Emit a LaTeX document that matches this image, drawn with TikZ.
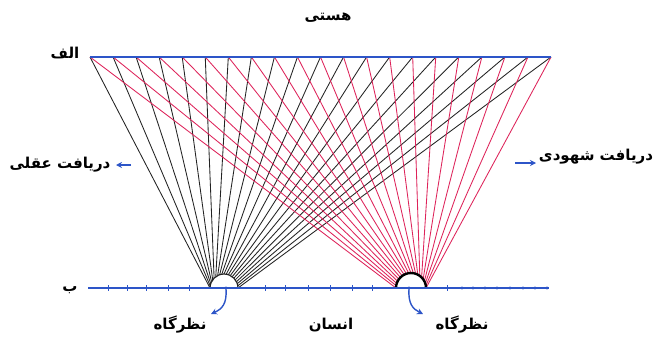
\documentclass[tikz,border=0pt]{standalone}
\usepackage{fontspec}
\newfontfamily\arabicfont[Script=Arabic,BoldFont={DejaVu Sans Bold}]{DejaVu Sans}
\TeXXeTstate=1
\usetikzlibrary{arrows.meta}
\definecolor{lineblue}{RGB}{45,85,200}
\definecolor{rayred}{RGB}{222,35,90}
\definecolor{rayblack}{RGB}{35,35,35}
\tikzset{
  lbl/.style={font=\arabicfont\bfseries\fontsize{15}{18}\selectfont, inner sep=0pt, text=black},
  baseline/.style={draw=lineblue, line width=1.6pt},
  rayb/.style={draw=rayblack, line width=0.85pt},
  rayr/.style={draw=rayred, line width=0.85pt},
  tick/.style={draw=lineblue, line width=0.8pt},
  barrow/.style={draw=lineblue, line width=1.4pt, -{Stealth[length=6pt,width=6pt]}},
}
\begin{document}
\begin{tikzpicture}[x=1pt,y=-1pt]
\useasboundingbox (0,0) rectangle (658,340);
\fill[white] (0,0) rectangle (658,340);
% key points
\coordinate (A1) at (90,57); \coordinate (A2) at (551,57);
\coordinate (B1) at (88,288); \coordinate (B2) at (549,288);
\coordinate (L) at (224,288); \coordinate (R) at (411,288);
\foreach \i in {0,...,20} {
  \coordinate (t\i) at ({90+\i*23.05},57);
  \coordinate (k\i) at ({224+14*cos(180+\i*9)},{288+14*sin(180+\i*9)});
  \coordinate (r\i) at ({411+15*cos(180+\i*9)},{288+15*sin(180+\i*9)});
}
% rays
\foreach \i in {0,...,20} { \draw[rayb] (t\i) -- (k\i); }
\foreach \i in {0,...,20} { \draw[rayr] (t\i) -- (r\i); }
% viewpoints
\draw[rayblack, line width=1.2pt] (210,288) arc[start angle=180, end angle=360, radius=14];
\draw[black, line width=2.4pt] (396,288) arc[start angle=180, end angle=360, radius=15];
% lines
\draw[baseline] (A1) -- (A2);
\draw[baseline] (B1) -- (B2);
\foreach \x in {108,127,146,168,189,265,285,308,330,352,372,447} { \draw[tick] (\x,285) -- (\x,291); }
\foreach \x in {226,409,462,473,485,497,510,523,535,547} { \fill[lineblue] (\x,288) circle (1.6); }
% labels
\node[lbl] (hasti) at (328,18) {\beginR هستی\endR};
\node[lbl] (alef) at (65,53) {\beginR الف\endR};
\node[lbl] (be) at (70,290) {\beginR ب\endR};
\node[lbl] (aqli) at (60,165) {\beginR دریافت عقلی\endR};
\node[lbl] (shohudi) at (596,157) {\beginR دریافت شهودی\endR};
\node[lbl] (nazar1) at (180,325) {\beginR نظرگاه\endR};
\node[lbl] (ensan) at (331,325) {\beginR انسان\endR};
\node[lbl] (nazar2) at (462,325) {\beginR نظرگاه\endR};
% arrows
\coordinate (a1s) at (131,165); \coordinate (a1e) at (116,165);
\draw[barrow] (a1s) -- (a1e);
\coordinate (a2s) at (515,163); \coordinate (a2e) at (536,163);
\draw[barrow] (a2s) -- (a2e);
\coordinate (v1s) at (226,289); \coordinate (v1e) at (211,314);
\draw[barrow] (v1s) .. controls (227,304) and (222,309) .. (v1e);
\coordinate (v2s) at (409,289); \coordinate (v2e) at (423,314);
\draw[barrow] (v2s) .. controls (408,304) and (413,309) .. (v2e);
\end{tikzpicture}
\end{document}
